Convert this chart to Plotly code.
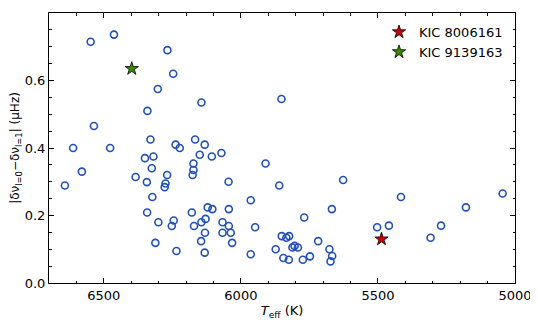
import plotly.graph_objects as go

# sample stars (open circles)
teff = [6548, 6463, 6268, 6247, 6303, 6341, 6144, 6536, 6612, 6477,
        6330, 6350, 6319, 6238, 6223, 6167, 6132, 6150, 6106, 6071,
        5852, 6173, 6173, 6176, 5910, 6045, 5860, 5627, 5964, 6179,
        6121, 6104, 6044, 5668, 6129, 6144, 6171, 6067, 6044, 5948,
        5769, 5503, 6131, 6067, 6037, 6145, 6032, 6132, 5964, 5851,
        5834, 5824, 5873, 5812, 5804, 5792, 5718, 5845, 5825, 5774,
        5748, 5677, 5667, 5673, 5416, 5045, 5179, 5460, 5270, 5308,
        6580, 6642, 6325, 6384, 6343, 6269, 6275, 6278, 6323, 6342,
        6301, 6245, 6252, 6312, 6235]
dnu = [0.715, 0.736, 0.690, 0.620, 0.575, 0.510, 0.535, 0.465, 0.400, 0.400,
       0.425, 0.370, 0.375, 0.410, 0.400, 0.425, 0.410, 0.380, 0.375, 0.385,
       0.545, 0.354, 0.335, 0.320, 0.354, 0.300, 0.289, 0.305, 0.245, 0.209,
       0.224, 0.219, 0.219, 0.219, 0.190, 0.180, 0.169, 0.180, 0.169, 0.165,
       0.194, 0.165, 0.149, 0.149, 0.149, 0.124, 0.119, 0.090, 0.085, 0.139,
       0.134, 0.139, 0.100, 0.105, 0.110, 0.105, 0.124, 0.074, 0.069, 0.069,
       0.079, 0.100, 0.080, 0.064, 0.255, 0.265, 0.224, 0.170, 0.170, 0.134,
       0.330, 0.289, 0.340, 0.314, 0.299, 0.320, 0.295, 0.284, 0.255, 0.209,
       0.180, 0.185, 0.169, 0.119, 0.095]

# highlighted stars
star_names = ["KIC 8006161", "KIC 9139163"]
star_teff = [5487, 6398]
star_dnu = [0.130, 0.635]
star_colors = ["#cc0000", "#3a8a00"]

FONT = "DejaVu Sans"

fig = go.Figure()
fig.add_trace(go.Scatter(
    x=teff, y=dnu, mode="markers", showlegend=False,
    marker=dict(symbol="circle-open", size=7, color="#2150b8",
                line=dict(width=1.6, color="#2150b8")),
))
for name, tx, dy, col in zip(star_names, star_teff, star_dnu, star_colors):
    fig.add_trace(go.Scatter(
        x=[tx], y=[dy], mode="markers", name=name,
        marker=dict(symbol="star", size=10, color=col,
                    line=dict(width=0.8, color="black")),
    ))

axis_common = dict(
    showgrid=False, zeroline=False, showline=True, linecolor="black",
    linewidth=1, mirror="ticks", ticks="inside", ticklen=5,
    tickcolor="black", tickfont=dict(family=FONT, size=13, color="black"),
    automargin=False,
)

fig.update_xaxes(
    range=[6700, 5000], dtick=500, tick0=5000,
    minor=dict(dtick=100, ticks="inside", ticklen=2.5, tickcolor="black"),
    title=dict(text="<i>T</i><sub>eff</sub> (K)", standoff=4,
               font=dict(family=FONT, size=13, color="black")),
    **axis_common,
)
fig.update_yaxes(
    range=[0, 0.8], dtick=0.2, tickformat=".1f",
    minor=dict(dtick=0.05, ticks="inside", ticklen=2.5, tickcolor="black"),
    title=dict(text="|δν<sub>l=0</sub>−δν<sub>l=1</sub>| (μHz)", standoff=2,
               font=dict(family=FONT, size=12, color="black")),
    **axis_common,
)

# the page body adds an 8px offset, so margins are shifted to compensate
fig.update_layout(
    width=538, height=327,
    margin=dict(l=41, r=31, t=5, b=52, autoexpand=False),
    plot_bgcolor="white", paper_bgcolor="white",
    font=dict(family=FONT, size=13, color="black"),
    legend=dict(x=0.985, y=0.985, xanchor="right", yanchor="top",
                bgcolor="rgba(0,0,0,0)", borderwidth=0,
                font=dict(family=FONT, size=13), itemwidth=30,
                tracegroupgap=0),
)

fig.write_html("out.html")
